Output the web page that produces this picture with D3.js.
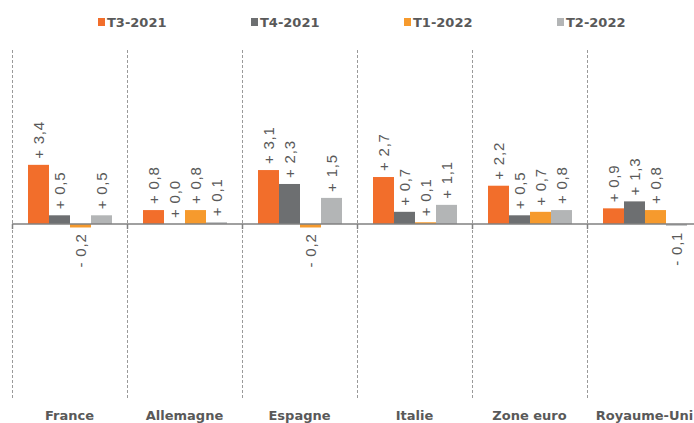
<!DOCTYPE html>
<html>
<head>
<meta charset="utf-8">
<script src="https://cdn.jsdelivr.net/npm/d3@7.9.0/dist/d3.min.js"></script>
<style>
  html, body { margin: 0; padding: 0; background: #fff; }
  svg { display: block; }
</style>
</head>
<body>
<svg id="chart" width="694" height="423"></svg>
<script>
// Data
const categories = ["France", "Allemagne", "Espagne", "Italie", "Zone euro", "Royaume-Uni"];
const seriesNames = ["T3-2021", "T4-2021", "T1-2022", "T2-2022"];
const t3_2021 = [3.4, 0.8, 3.1, 2.7, 2.2, 0.9];
const t4_2021 = [0.5, 0.0, 2.3, 0.7, 0.5, 1.3];
const t1_2022 = [-0.2, 0.8, -0.2, 0.1, 0.7, 0.8];
const t2_2022 = [0.5, 0.1, 1.5, 1.1, 0.8, -0.1];
const seriesColors = ["#f26e2b", "#6d6f71", "#f69a2d", "#b3b5b6"];

const seriesValues = [t3_2021, t4_2021, t1_2022, t2_2022];

const svg = d3.select('#chart');
const textColor = '#595959';

// Scales
const x = d3.scaleBand()
  .domain(categories)
  .range([12, 702]);

const x1 = d3.scaleBand()
  .domain(seriesNames)
  .range([16, 100]);

const y = d3.scaleLinear()
  .domain([-10, 10])
  .range([398, 50]);

// Dashed separators between categories
svg.append('g')
  .selectAll('line')
  .data(categories)
  .join('line')
  .attr('x1', d => x(d) + 0.5)
  .attr('x2', d => x(d) + 0.5)
  .attr('y1', y(10))
  .attr('y2', y(-10))
  .attr('stroke', '#9a9a9a')
  .attr('stroke-width', 1)
  .attr('stroke-dasharray', '3,2');

// Bars
const groups = svg.append('g')
  .selectAll('g')
  .data(categories)
  .join('g')
  .attr('transform', d => `translate(${x(d)},0)`);

const fmt = v => (v < 0 ? '- ' : '+ ') + Math.abs(v).toFixed(1).replace('.', ',');

groups.each(function(cat, ci) {
  const g = d3.select(this);
  const rows = seriesNames.map((s, si) => ({ s, si, v: seriesValues[si][ci] }));

  g.selectAll('rect')
    .data(rows)
    .join('rect')
    .attr('x', d => x1(d.s))
    .attr('width', x1.bandwidth())
    .attr('y', d => y(Math.max(0, d.v)))
    .attr('height', d => Math.abs(y(d.v) - y(0)))
    .attr('fill', d => seriesColors[d.si]);

  g.selectAll('text')
    .data(rows)
    .join('text')
    .attr('transform', d => {
      const cx = x1(d.s) + x1.bandwidth() / 2;
      const cy = d.v < 0 ? y(d.v) + 6 : y(d.v) - 6;
      return `translate(${cx},${cy}) rotate(-90)`;
    })
    .attr('text-anchor', d => d.v < 0 ? 'end' : 'start')
    .attr('dy', '0.35em')
    .attr('font-family', 'Liberation Sans, Arial, sans-serif')
    .attr('font-size', 15)
    .attr('letter-spacing', 0.8)
    .attr('fill', textColor)
    .text(d => fmt(d.v));
});

// Zero line with ticks at category boundaries
svg.append('line')
  .attr('x1', 12)
  .attr('x2', 694)
  .attr('y1', y(0))
  .attr('y2', y(0))
  .attr('stroke', '#808080')
  .attr('stroke-width', 1.5);

svg.append('g')
  .selectAll('line')
  .data(categories)
  .join('line')
  .attr('x1', d => x(d) + 0.5)
  .attr('x2', d => x(d) + 0.5)
  .attr('y1', y(0))
  .attr('y2', y(0) + 5)
  .attr('stroke', '#808080')
  .attr('stroke-width', 1.5);

// Category labels
svg.append('g')
  .selectAll('text')
  .data(categories)
  .join('text')
  .attr('x', d => x(d) + x.bandwidth() / 2)
  .attr('y', 420)
  .attr('text-anchor', 'middle')
  .attr('font-family', 'DejaVu Sans, Verdana, sans-serif')
  .attr('font-weight', 'bold')
  .attr('font-size', 13)
  .attr('fill', textColor)
  .text(d => d);

// Legend
const legendX = [98, 251, 404, 557];
const legend = svg.append('g')
  .selectAll('g')
  .data(seriesNames)
  .join('g')
  .attr('transform', (d, i) => `translate(${legendX[i]},18)`);

legend.append('rect')
  .attr('width', 7)
  .attr('height', 8)
  .attr('fill', (d, i) => seriesColors[i]);

legend.append('text')
  .attr('x', 9)
  .attr('y', 8.5)
  .attr('font-family', 'DejaVu Sans, Verdana, sans-serif')
  .attr('font-weight', 'bold')
  .attr('font-size', 13)
  .attr('fill', textColor)
  .text(d => d);
</script>
</body>
</html>
